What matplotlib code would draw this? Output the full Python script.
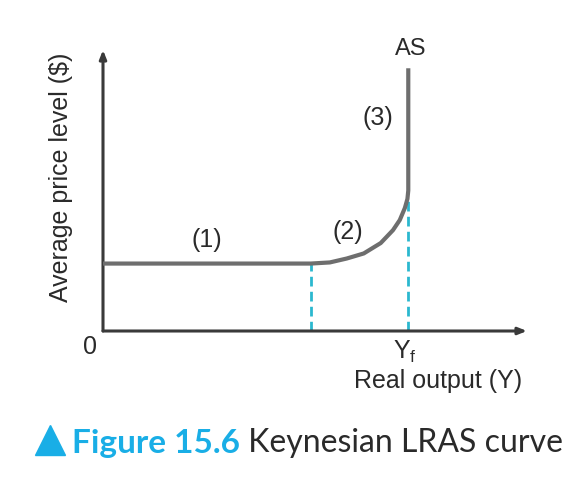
import matplotlib

matplotlib.use("Agg")
import matplotlib.pyplot as plt
from matplotlib.lines import Line2D

# Keynesian LRAS curve (output / price in arbitrary units 0..100)
AS_OUTPUT = [0, 49, 53.5, 57.5, 61.5, 65.5, 68.4, 70, 71.2, 71.8, 72, 72]
AS_PRICE = [24, 24, 24.4, 25.8, 27.6, 31.3, 35.9, 39.5, 43.8, 47, 50, 93.5]

DROP_OUTPUT = [49, 72]       # where the dashed guides drop to the x axis
DROP_PRICE = [24, 48]

SEGMENT_LABELS = ["(1)", "(2)", "(3)"]
SEGMENT_X = [24.5, 57.8, 64.9]
SEGMENT_Y = [32.4, 35.2, 75.8]

AXIS_COLOR = "#3a3a3a"
CURVE_COLOR = "#6e6e6e"
DASH_COLOR = "#2bb8cf"
CAPTION_BLUE = "#19aee6"

plt.rcParams["font.family"] = ["Liberation Sans", "DejaVu Sans"]

fig = plt.figure(figsize=(5.72, 4.86), dpi=100)
W, H = 572, 486
# axes box: origin at (103, 331) px, x end at 527 px, y end at 50 px
ax = fig.add_axes([103 / W, (H - 331) / H, (527 - 103) / W, (331 - 50) / H])
ax.set_xlim(0, 100)
ax.set_ylim(0, 100)
ax.axis("off")

arrow = dict(arrowstyle="-|>,head_length=0.5,head_width=0.2", color=AXIS_COLOR, lw=2.2,
             shrinkA=0, shrinkB=0)
ax.annotate("", xy=(100, 0), xytext=(0, 0), arrowprops=arrow, annotation_clip=False)
ax.annotate("", xy=(0, 100), xytext=(0, 0), arrowprops=arrow, annotation_clip=False)

for x, y in zip(DROP_OUTPUT, DROP_PRICE):
    ax.plot([x, x], [0, y], color=DASH_COLOR, lw=2, dashes=(3.5, 1.9), zorder=2)

ax.plot(AS_OUTPUT, AS_PRICE, color=CURVE_COLOR, lw=3, solid_joinstyle="round",
        solid_capstyle="butt", zorder=3, clip_on=False)

for lab, x, y in zip(SEGMENT_LABELS, SEGMENT_X, SEGMENT_Y):
    ax.text(x, y, lab, fontsize=18, ha="center", va="center", color="#2a2a2a")

ax.text(72.5, 100.2, "AS", fontsize=17, ha="center", va="center", color="#2a2a2a")
ax.text(-3, -5.7, "0", fontsize=18, ha="center", va="center", color="#2a2a2a")
ax.text(71.2, -7.5, "Y$_\\mathregular{f}$", fontsize=18, ha="center", va="center",
        color="#2a2a2a")
ax.text(79, -17.8, "Real output (Y)", fontsize=18, ha="center", va="center",
        color="#2a2a2a")
ax.text(-10.0, 54.8, "Average price level ($)", fontsize=18, rotation=90,
        ha="center", va="center", color="#2a2a2a")

# caption
fig.add_artist(Line2D([50 / W], [(H - 440) / H], marker="^", markersize=21,
                      color=CAPTION_BLUE, transform=fig.transFigure))
t1 = fig.text(72 / W, (H - 453) / H, "Figure 15.6", fontsize=24, fontweight="bold",
              family="Lato", color=CAPTION_BLUE, ha="left", va="baseline")
ax.annotate(" Keynesian LRAS curve", xy=(1, 0), xycoords=t1, fontsize=23,
            family="Lato", color="#2a2a2a", ha="left", va="bottom",
            annotation_clip=False)

fig.savefig("out.png", dpi=100)
